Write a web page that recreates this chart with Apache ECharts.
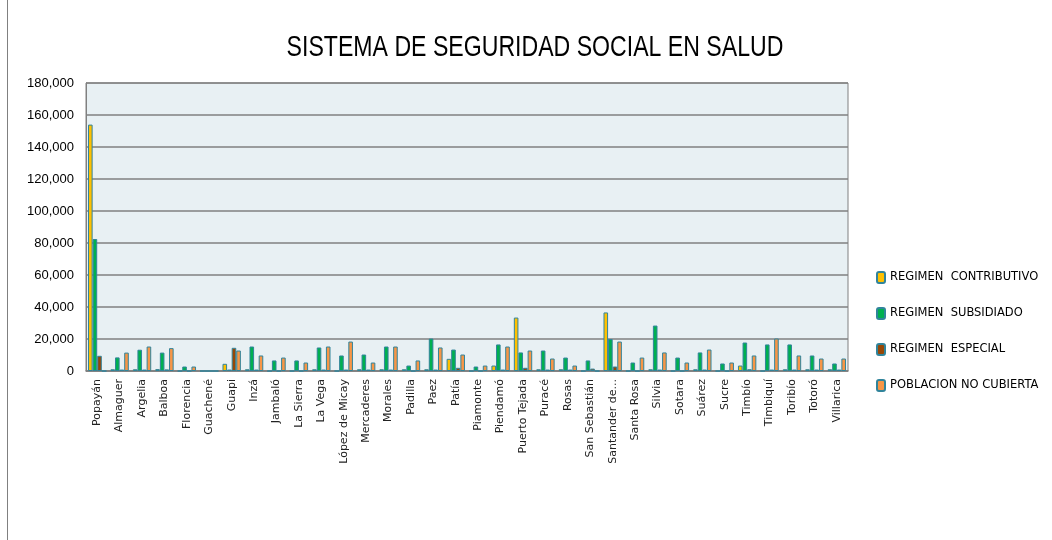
<!DOCTYPE html>
<html>
  <head>
    <meta charset="utf-8">
    <title></title>
    <style media="screen">
    body {margin:0;}
    .box {width:1052px; height:540px; background:#fff;}
    </style>
    <script src="https://cdn.jsdelivr.net/npm/echarts@6/dist/echarts.min.js" charset="utf-8"></script>
  </head>
  <body>
    <div class="box" id="chart"></div>
    <script>
    // municipios
    const municipios = ['Popayán','Almaguer','Argelia','Balboa','Florencia','Guachené','Guapi','Inzá','Jambaló','La Sierra',
      'La Vega','López de Micay','Mercaderes','Morales','Padilla','Paez','Patía','Piamonte','Piendamó','Puerto Tejada',
      'Puracé','Rosas','San Sebastián','Santander de...','Santa Rosa','Silvia','Sotara','Suárez','Sucre','Timbío',
      'Timbiquí','Toribío','Totoró','Villarica'];

    const contributivo = [154000,1100,1100,1200,0,0,4500,1100,0,0,
      1100,0,1100,1100,1100,1100,7600,0,3400,33400,
      1100,1100,0,36600,0,1100,0,1100,0,3400,
      0,1100,1100,1100];
    const subsidiado = [82500,8500,13300,11500,2800,0,900,15300,6600,6600,
      14700,9700,10300,15300,3400,20300,13400,2800,16600,11600,
      12800,8400,6600,20000,5300,28400,8400,11600,4700,17800,
      16600,16600,9700,4700];
    const especial = [9500,900,900,1000,0,0,14500,900,0,0,
      900,900,900,900,0,900,2000,0,900,2000,
      900,900,1500,2800,0,900,0,900,0,1100,
      900,900,900,900];
    const noCubierta = [0,11500,15300,14300,2800,0,12800,9700,8400,5300,
      15300,18400,5300,15300,6600,14700,10300,3400,15300,12800,
      7800,3400,0,18400,8400,11600,5300,13400,5300,9700,
      20300,9700,7800,7800];

    const yTicks = [0,20000,40000,60000,80000,100000,120000,140000,160000,180000];

    const nombres = ['REGIMEN  CONTRIBUTIVO','REGIMEN  SUBSIDIADO','REGIMEN  ESPECIAL','POBLACION NO CUBIERTA'];
    const colores = ['#ffc000','#00b050','#974706','#f79646'];
    const valores = [contributivo, subsidiado, especial, noCubierta];

    let chart = echarts.init(document.getElementById('chart'));
    chart.setOption({
      animation: false,
      legend: {
        orient: 'vertical', left: 871, top: 266, itemGap: 23,
        itemWidth: 8, itemHeight: 11,
        textStyle: {fontFamily: 'DejaVu Sans', fontSize: 11.5, color: '#000'},
        data: nombres
      },
      grid: {
        left: 86, right: 204, top: 83, bottom: 169,
        show: true, backgroundColor: '#e8f0f3', borderColor: '#808080', borderWidth: 1
      },
      xAxis: {
        type: 'category',
        data: municipios,
        axisLine: {lineStyle: {color: '#808080', width: 1.5}},
        axisTick: {show: false},
        axisLabel: {rotate: 90, interval: 0, fontSize: 11, color: '#222', margin: 8, fontFamily: 'DejaVu Sans'}
      },
      yAxis: {
        type: 'value', min: 0, max: 180000, interval: 20000,
        axisLine: {show: true, lineStyle: {color: '#808080'}},
        splitLine: {lineStyle: {color: '#808080', width: 1.5}},
        axisLabel: {
          fontSize: 13, color: '#000', fontFamily: 'Liberation Sans', margin: 12,
          formatter: v => yTicks.includes(v) ? v.toLocaleString('en-US') : ''
        }
      },
      series: nombres.map((n, i) => ({
        name: n,
        type: 'bar',
        barGap: '0%',
        barCategoryGap: '18%',
        data: valores[i],
        itemStyle: {color: colores[i], borderColor: '#31849b', borderWidth: 1}
      })),
      graphic: [
        {type: 'line', shape: {x1: 7.5, y1: 0, x2: 7.5, y2: 540}, style: {stroke: '#808080', lineWidth: 1}},
        // titulo estrecho
        {type: 'text', x: 535, y: 48, scaleX: 0.77,
          style: {text: 'SISTEMA DE SEGURIDAD SOCIAL EN SALUD', fontFamily: 'Liberation Sans', fontSize: 30,
            fill: '#000', align: 'center', verticalAlign: 'middle'}}
      ]
    });
    </script>
  </body>
</html>
